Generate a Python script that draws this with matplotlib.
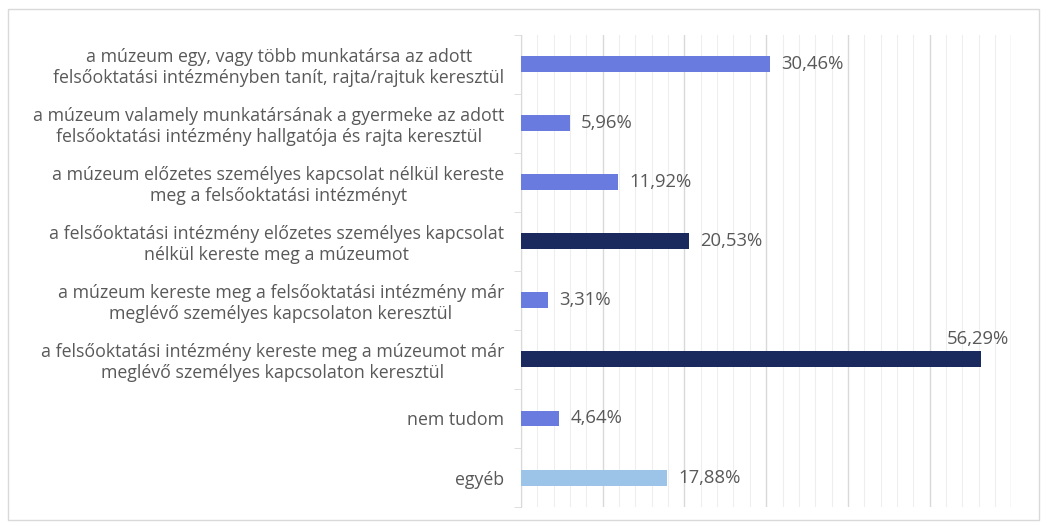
import matplotlib
matplotlib.use("Agg")
import matplotlib.pyplot as plt
from matplotlib.patches import Rectangle
import numpy as np

plt.rcParams['font.family'] = ['Open Sans', 'DejaVu Sans']

categories = [
    "a múzeum egy, vagy több munkatársa az adott\nfelsőoktatási intézményben tanít, rajta/rajtuk keresztül",
    "a múzeum valamely munkatársának a gyermeke az adott\nfelsőoktatási intézmény hallgatója és rajta keresztül",
    "a múzeum előzetes személyes kapcsolat nélkül kereste\nmeg a felsőoktatási intézményt",
    "a felsőoktatási intézmény előzetes személyes kapcsolat\nnélkül kereste meg a múzeumot",
    "a múzeum kereste meg a felsőoktatási intézmény már\nmeglévő személyes kapcsolaton keresztül",
    "a felsőoktatási intézmény kereste meg a múzeumot már\nmeglévő személyes kapcsolaton keresztül",
    "nem tudom",
    "egyéb",
]
values = [30.46, 5.96, 11.92, 20.53, 3.31, 56.29, 4.64, 17.88]
labels = ["30,46%", "5,96%", "11,92%", "20,53%", "3,31%", "56,29%", "4,64%", "17,88%"]
colors = ["#6A7BDF", "#6A7BDF", "#6A7BDF", "#1B2A5E", "#6A7BDF", "#1B2A5E", "#6A7BDF", "#9CC3E8"]

fig = plt.figure(figsize=(10.46, 5.26), dpi=100)
ax = fig.add_axes([0.498, 0.036, 0.469, 0.898])

y = np.arange(len(categories))
ax.barh(y, values, height=0.27, color=colors, zorder=3)

ax.set_xlim(0, 59.8)
ax.set_ylim(len(categories) - 0.5, -0.5)

ax.set_xticks(np.arange(0, 61, 10))
ax.set_xticks(np.arange(0, 61, 2), minor=True)
ax.grid(axis='x', which='major', color='#D9D9D9', linewidth=1.0, zorder=0)
ax.grid(axis='x', which='minor', color='#EEEEEE', linewidth=0.8, zorder=0)
ax.tick_params(axis='x', which='both', length=0, labelbottom=False)

ax.set_yticks(y)
ax.set_yticklabels(categories, fontsize=12.8, color='#595959', multialignment='center')
ax.set_yticks(np.arange(-0.5, len(categories) + 0.5, 1), minor=True)
ax.tick_params(axis='y', which='major', length=0, pad=12)
ax.tick_params(axis='y', which='minor', length=5, color='#D9D9D9', direction='out')

for s in ['top', 'right', 'bottom']:
    ax.spines[s].set_visible(False)
ax.spines['left'].set_color('#D9D9D9')

for i, (v, lab) in enumerate(zip(values, labels)):
    if v > 50:
        ax.text(v + 3.4, i - 0.2, lab, ha='right', va='bottom', fontsize=13.3, color='#595959')
    else:
        ax.text(v + 1.4, i, lab, ha='left', va='center', fontsize=13.3, color='#595959')

fig.patches.append(Rectangle((0.008, 0.012), 0.985, 0.97, transform=fig.transFigure,
                             fill=False, edgecolor='#D9D9D9', linewidth=1.0))

fig.savefig("out.png", dpi=100)
